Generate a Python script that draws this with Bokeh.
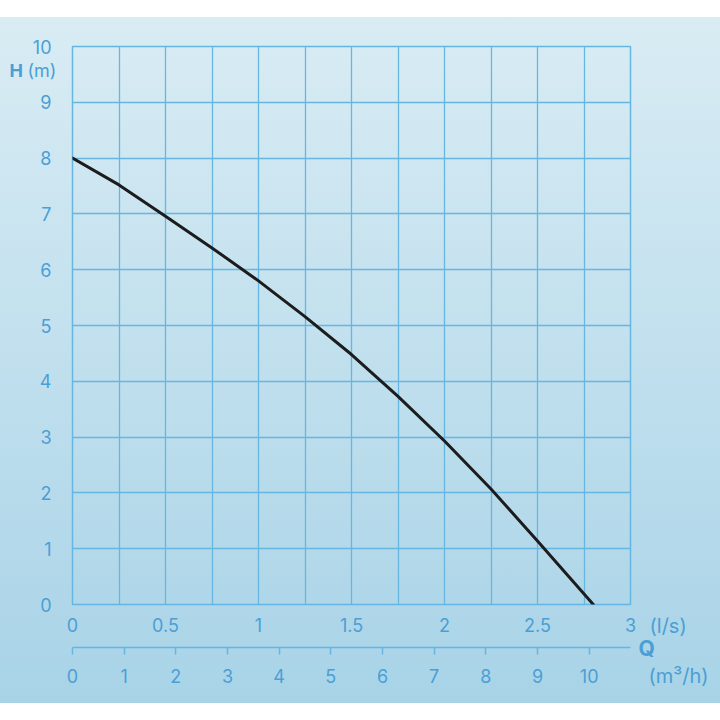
from bokeh.plotting import figure
from bokeh.models import LinearAxis, Range1d, FixedTicker, Label
from bokeh.embed import file_html
from bokeh.resources import INLINE

# ---------------- data ----------------
flow_ls = [0, 0.25, 0.5, 0.75, 1.0, 1.25, 1.5, 1.75, 2.0, 2.25, 2.5, 2.8]
head_m = [8.0, 7.52, 6.96, 6.39, 5.80, 5.16, 4.48, 3.73, 2.93, 2.07, 1.14, 0.0]

h_ticks = [0, 1, 2, 3, 4, 5, 6, 7, 8, 9, 10]
h_labels = ["0", "1", "2", "3", "4", "5", "6", "7", "8", "9", "10"]
ls_ticks = [0, 0.5, 1, 1.5, 2, 2.5, 3]
ls_labels = ["0", "0.5", "1", "1.5", "2", "2.5", "3"]
m3h_ticks = [0, 1, 2, 3, 4, 5, 6, 7, 8, 9, 10]
m3h_labels = ["0", "1", "2", "3", "4", "5", "6", "7", "8", "9", "10"]
grid_ls = [0, 0.25, 0.5, 0.75, 1, 1.25, 1.5, 1.75, 2, 2.25, 2.5, 2.75, 3]

M3H_PER_LS = 3.6

# ---------------- style ----------------
FONT = "Inter"
TXT = "#4a9fd5"
GRID = "#66b6e2"
FL, FR, FT, FB = 72, 630, 46, 604
W = H = 720

p = figure(width=W, height=H, x_range=Range1d(0, 3), y_range=Range1d(0, 10),
           output_backend="svg", toolbar_location=None,
           x_axis_location=None, y_axis_location=None,
           min_border_left=FL, min_border_right=W - FR,
           min_border_top=FT, min_border_bottom=H - FB,
           background_fill_color=None, border_fill_color=None,
           outline_line_color=GRID, outline_line_width=1.5)
p.styles = {"background": "linear-gradient(180deg, #ffffff 0px, #ffffff 17px, #d9ecf4 17px, #a8d3e7 703px, #ffffff 703px)"}
p.extra_x_ranges = {"m3h": Range1d(0, 3 * M3H_PER_LS)}

p.xgrid.ticker = FixedTicker(ticks=grid_ls)
p.ygrid.ticker = FixedTicker(ticks=h_ticks)
for g in (p.xgrid, p.ygrid):
    g.grid_line_color = GRID
    g.grid_line_width = 1.3

common = dict(major_label_text_font=FONT, major_label_text_font_size="18px",
              major_label_text_color=TXT, minor_tick_line_color=None)

yax = LinearAxis(ticker=FixedTicker(ticks=h_ticks),
                 major_label_overrides=dict(zip(h_ticks, h_labels)),
                 axis_line_color=None, major_tick_line_color=None,
                 major_tick_out=0, major_tick_in=0, major_label_standoff=21, **common)
p.add_layout(yax, "left")

xax = LinearAxis(ticker=FixedTicker(ticks=ls_ticks),
                 major_label_overrides=dict(zip(ls_ticks, ls_labels)),
                 axis_line_color=None, major_tick_line_color=None,
                 major_tick_out=0, major_tick_in=0, major_label_standoff=13,
                 axis_label=" ", axis_label_text_font_size="9px", axis_label_standoff=0,
                 **common)
p.add_layout(xax, "below")

x2 = LinearAxis(x_range_name="m3h", ticker=FixedTicker(ticks=m3h_ticks),
                major_label_overrides=dict(zip(m3h_ticks, m3h_labels)),
                axis_line_color=GRID, axis_line_width=1.5,
                major_tick_line_color=GRID, major_tick_line_width=1.5,
                major_tick_out=7, major_tick_in=0, major_label_standoff=14, **common)
p.add_layout(x2, "below")

p.line(flow_ls, head_m, line_color="#1c1c1c", line_width=3, line_join="round", line_cap="round")


def lab(text, px, py, side, bold=False, size="18px"):
    p.add_layout(Label(x=px, y=py, x_units="canvas", y_units="canvas", text=text,
                       text_baseline="middle", text_align="left", text_font=FONT,
                       text_font_size=size,
                       text_font_style="bold" if bold else "normal", text_color=TXT), side)


lab("H", 9, 70, "above", bold=True)
lab("(m)", 27, 70, "above")
lab("(l/s)", 649, 625, "right", size="20px")
lab("Q", 638, 648, "right", bold=True, size="21px")
lab("(m³/h)", 648, 675, "below", size="20px")

html = file_html(p, INLINE)
html = html.replace("<head>", "<head><style>html,body{margin:0;padding:0;overflow:hidden;}</style>", 1)
open("out.html", "w").write(html)
